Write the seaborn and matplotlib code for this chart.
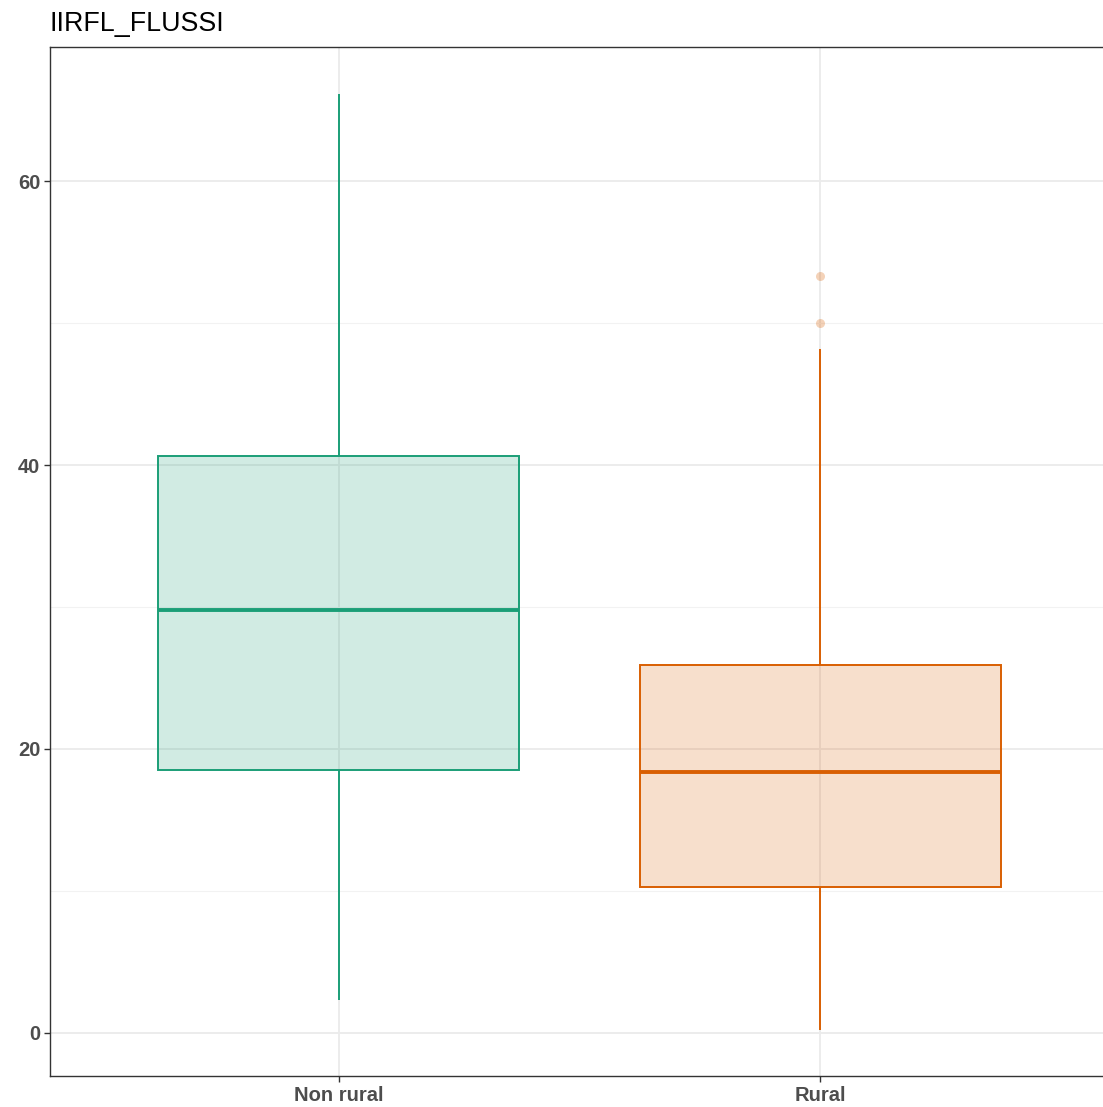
import numpy as np
import pandas as pd
import seaborn as sns
import matplotlib
matplotlib.use("Agg")
import matplotlib.pyplot as plt
from matplotlib.colors import to_rgba
from matplotlib.ticker import MultipleLocator

# Summary statistics of IIRFL_FLUSSI by area type
categories = ["Non rural", "Rural"]
colors = ["#1B9E77", "#D95F02"]
whisker_low = [2.3, 0.2]
q1 = [18.5, 10.3]
median = [29.8, 18.4]
q3 = [40.6, 25.9]
whisker_high = [66.1, 48.2]
outliers = [[], [50.0, 53.3]]

y_ticks = [0, 20, 40, 60]

# Observations reproducing each group's five-number summary
rows = []
for i, cat in enumerate(categories):
    vals = ([whisker_low[i]] + [q1[i]] * 3 + [median[i]] * 3 + [q3[i]] * 3
            + [whisker_high[i]] + outliers[i])
    rows += [(cat, v) for v in vals]
df = pd.DataFrame(rows, columns=["group", "value"])

sns.set_style("white")
plt.rcParams["font.family"] = ["Liberation Sans", "DejaVu Sans"]

fig = plt.figure(figsize=(11.03, 11.07), dpi=100)
W, H = 1103, 1107
ax = fig.add_axes([50 / W, (H - 1076) / H, (1109 - 50) / W, (1076 - 47) / H])

for i, cat in enumerate(categories):
    n_patches = len(ax.patches)
    sns.boxplot(
        data=df[df["group"] == cat], x="group", y="value",
        order=categories, color=colors[i], linecolor=colors[i],
        width=0.75, whis=1.5, linewidth=1.4, fill=True, ax=ax,
        medianprops=dict(linewidth=2.8, color=colors[i]),
        flierprops=dict(marker="o", markersize=6.5,
                        markerfacecolor=to_rgba(colors[i], 0.28),
                        markeredgecolor="none"),
        capprops=dict(linewidth=0),
    )
    for p in ax.patches[n_patches:]:
        p.set_facecolor(to_rgba(colors[i], 0.2))
        p.set_edgecolor(colors[i])
        p.set_linewidth(1.4)

ax.set_xlim(-0.6, 1.6)
ax.set_ylim(-3.03, 69.44)
ax.set_xlabel("")
ax.set_ylabel("")

ax.yaxis.set_major_locator(MultipleLocator(20))
ax.yaxis.set_minor_locator(MultipleLocator(10))
ax.set_axisbelow(True)
ax.grid(True, which="major", color="#EBEBEB", linewidth=1.3)
ax.grid(True, which="minor", axis="y", color="#F2F2F2", linewidth=0.8)
ax.set_yticks(y_ticks)

for s in ax.spines.values():
    s.set_visible(True)
    s.set_color("#333333")
    s.set_linewidth(1.0)

ax.tick_params(axis="both", which="major", bottom=True, left=True,
               direction="out", length=4, width=1.0, color="#333333",
               labelsize=14.5, labelcolor="#4D4D4D", pad=3)
ax.tick_params(axis="y", which="minor", left=False, length=0)
for lbl in ax.get_xticklabels() + ax.get_yticklabels():
    lbl.set_fontweight("bold")

fig.text(50 / W, 1 - 31 / H, "IIRFL_FLUSSI", fontsize=19.3, color="black",
         ha="left", va="baseline")

fig.savefig("out.png", dpi=100)
